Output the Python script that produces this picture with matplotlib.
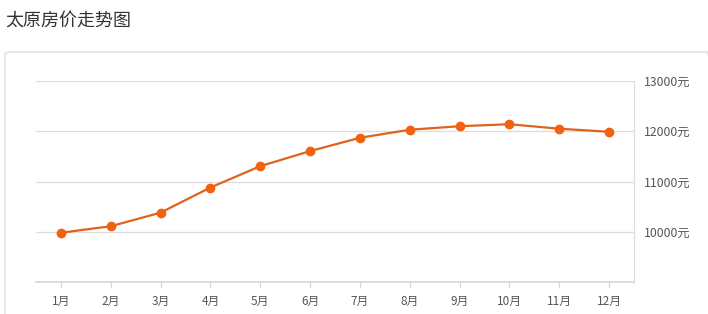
import matplotlib
matplotlib.use("Agg")
import matplotlib.pyplot as plt
from matplotlib.patches import FancyBboxPatch

plt.rcParams['font.family'] = ['Noto Sans CJK SC', 'DejaVu Sans']

months = ["1月", "2月", "3月", "4月", "5月", "6月",
          "7月", "8月", "9月", "10月", "11月", "12月"]
prices = [9980, 10110, 10380, 10880, 11305, 11605,
          11870, 12030, 12100, 12140, 12050, 11990]
yticks = [10000, 11000, 12000, 13000]
ytick_labels = ["10000元", "11000元", "12000元", "13000元"]

W, H = 708, 314
fig = plt.figure(figsize=(W / 100, H / 100), dpi=100)
fig.patch.set_facecolor("white")

fig.text(5 / W, 1 - 22 / H, "太原房价走势图", fontsize=13, color="#333333",
         ha="left", va="center")

# panel frame
box = FancyBboxPatch((5 / W, -0.05), 1.0, (H - 52) / H + 0.05,
                     boxstyle="round,pad=0,rounding_size=0.008",
                     transform=fig.transFigure, facecolor="none",
                     edgecolor="#dddddd", linewidth=1.0, zorder=-1)
fig.patches.append(box)

ax = fig.add_axes([36 / W, 32 / H, 598 / W, 201 / H])
ax.set_facecolor("none")
ax.set_zorder(2)
x = list(range(1, len(months) + 1))
ax.plot(x, prices, color="#dd631e", linewidth=1.6, marker="o",
        markersize=6, markerfacecolor="#f0620f", markeredgecolor="#f0620f",
        zorder=3, clip_on=False)

ax.set_xlim(0.5, 12.5)
ax.set_ylim(9000, 13000)
ax.set_xticks(x)
ax.set_xticklabels(months)
ax.yaxis.tick_right()
ax.set_yticks(yticks)
ax.set_yticklabels(ytick_labels)
ax.grid(axis="y", color="#dddddd", linewidth=0.9)
ax.set_axisbelow(True)

for s in ["top", "left"]:
    ax.spines[s].set_visible(False)
ax.spines["bottom"].set_color("#d5d5d5")
ax.spines["bottom"].set_linewidth(1.2)
ax.spines["right"].set_color("#dddddd")
ax.spines["right"].set_linewidth(0.9)

ax.tick_params(axis="x", colors="#d5d5d5", labelcolor="#555555",
               length=4, labelsize=8.5, pad=5)
ax.tick_params(axis="y", length=0, labelcolor="#555555", labelsize=8.8, pad=7)

fig.savefig("out.png", dpi=100)
